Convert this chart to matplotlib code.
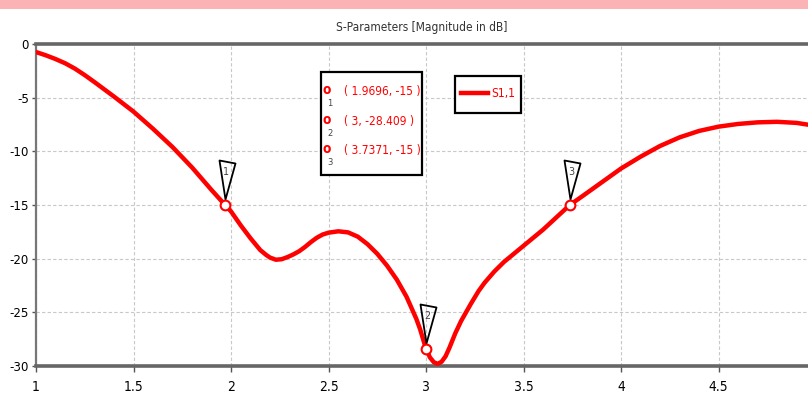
import matplotlib
matplotlib.use("Agg")
import matplotlib.pyplot as plt
from matplotlib import font_manager
from matplotlib.path import Path
from matplotlib.patches import Rectangle

# ---- data ----
freq = [1.00, 1.05, 1.10, 1.15, 1.20, 1.25, 1.30, 1.40, 1.50, 1.60, 1.70, 1.80,
        1.90, 1.9696, 2.00, 2.05, 2.10, 2.15, 2.18, 2.20, 2.23, 2.26, 2.29, 2.32,
        2.35, 2.38, 2.41, 2.44, 2.47, 2.50, 2.55, 2.60, 2.65, 2.70, 2.75, 2.80,
        2.85, 2.90, 2.95, 2.97, 3.00, 3.02, 3.04, 3.06, 3.08, 3.10, 3.12, 3.15,
        3.18, 3.23, 3.27, 3.30, 3.35, 3.40, 3.50, 3.60, 3.7371, 3.80, 3.90, 4.00,
        4.10, 4.20, 4.30, 4.40, 4.50, 4.60, 4.70, 4.80, 4.90, 4.97]
s11 = [-0.75, -1.05, -1.4, -1.8, -2.3, -2.9, -3.55, -4.9, -6.3, -7.9, -9.6, -11.5,
       -13.6, -15.0, -15.6, -16.9, -18.1, -19.2, -19.65, -19.9, -20.1, -20.05, -19.85, -19.6,
       -19.3, -18.9, -18.45, -18.05, -17.75, -17.58, -17.45, -17.55, -17.95, -18.65, -19.55, -20.65,
       -21.95, -23.55, -25.6, -26.6, -28.409, -29.2, -29.65, -29.8, -29.6, -29.1, -28.3, -26.95,
       -25.8, -24.2, -23.0, -22.25, -21.2, -20.3, -18.8, -17.3, -15.0, -14.2, -12.9, -11.6,
       -10.5, -9.5, -8.7, -8.1, -7.7, -7.45, -7.3, -7.25, -7.35, -7.55]

marker_x = [1.9696, 3.0, 3.7371]
marker_y = [-15.0, -28.409, -15.0]
marker_labels = ["1", "2", "3"]
marker_texts = ["( 1.9696, -15 )", "( 3, -28.409 )", "( 3.7371, -15 )"]

xticks = [1, 1.5, 2, 2.5, 3, 3.5, 4, 4.5]
xticklabels = ["1", "1.5", "2", "2.5", "3", "3.5", "4", "4.5"]
yticks = [0, -5, -10, -15, -20, -25, -30]
yticklabels = ["0", "-5", "-10", "-15", "-20", "-25", "-30"]

title = "S-Parameters [Magnitude in dB]"
series_name = "S1,1"

# pick a condensed font if one is installed
names = {f.name for f in font_manager.fontManager.ttflist}
stretches = {(f.name, f.stretch) for f in font_manager.fontManager.ttflist}
if "Liberation Sans Narrow" in names:
    FONT = ["Liberation Sans Narrow", "DejaVu Sans"]
    STRETCH = "normal"
    SCALE = 1.0
elif ("DejaVu Sans", "condensed") in stretches or ("DejaVu Sans", "semi-condensed") in stretches:
    FONT = ["DejaVu Sans"]
    STRETCH = "condensed"
    SCALE = 0.9
else:
    FONT = ["DejaVu Sans"]
    STRETCH = "normal"
    SCALE = 0.8
RED = "#ff0000"


def fs(v):
    return v * SCALE


fig = plt.figure(figsize=(8.08, 4.15), dpi=100)
fig.patch.set_facecolor("white")
fig.patches.append(Rectangle((0, 1 - 9 / 415), 1, 9 / 415, transform=fig.transFigure,
                             facecolor="#fbb3b5", edgecolor="none", zorder=0))

ax = fig.add_axes([36 / 808, 49 / 415, 1 - 36 / 808 + 0.01, (366 - 44) / 415])
ax.set_xlim(1, 5.0)
ax.set_ylim(-30, 0)

ax.plot(freq, s11, color=RED, lw=3.2, solid_capstyle="round", solid_joinstyle="round", zorder=3)

flag = Path([(0, 6), (-6, 45), (10, 42), (0, 6)],
            [Path.MOVETO, Path.LINETO, Path.LINETO, Path.CLOSEPOLY])
ax.plot(marker_x, marker_y, ls="none", marker=flag, markersize=64.8,
        markerfacecolor="none", markeredgecolor="black", markeredgewidth=1.3, zorder=4)
ax.plot(marker_x, marker_y, ls="none", marker="o", markersize=7,
        markerfacecolor="white", markeredgecolor=RED, markeredgewidth=1.5, zorder=5)
for mx, my, lab in zip(marker_x, marker_y, marker_labels):
    ax.annotate(lab, xy=(mx, my), xytext=(1, 24), textcoords="offset points",
                ha="center", va="center", fontsize=fs(8.5), color="#444444",
                family=FONT, fontstretch=STRETCH, zorder=6)

ax.set_xticks(xticks)
ax.set_xticklabels(xticklabels, family=FONT, fontsize=fs(11), fontstretch=STRETCH)
ax.set_yticks(yticks)
ax.set_yticklabels(yticklabels, family=FONT, fontsize=fs(10.5), fontstretch=STRETCH)
ax.tick_params(axis="x", length=4, width=1, color="#555555", pad=6)
ax.tick_params(axis="y", length=3, width=1, color="#555555", pad=2)
ax.grid(True, color="#c8c8c8", ls=(0, (3, 2)), lw=0.8)

for s in ["top", "bottom"]:
    ax.spines[s].set_linewidth(2.6)
    ax.spines[s].set_color("#666666")
ax.spines["left"].set_linewidth(1.6)
ax.spines["left"].set_color("#777777")
ax.spines["right"].set_visible(False)

fig.text(422 / 808, 1 - 27 / 415, title, ha="center", va="center",
         fontsize=fs(9.5), family=FONT, fontstretch=STRETCH, color="#333333")

# marker info box
bx0, by0, bx1, by1 = 321, 72, 422, 175
fig.patches.append(Rectangle((bx0 / 808, 1 - by1 / 415), (bx1 - bx0) / 808, (by1 - by0) / 415,
                             transform=fig.transFigure, facecolor="white",
                             edgecolor="black", lw=1.6, zorder=5))
rows_y = [90, 120, 149]
for ry, lab, txt in zip(rows_y, marker_labels, marker_texts):
    fig.text(327 / 808, 1 - ry / 415, "o", ha="center", va="center", fontsize=fs(11),
             color=RED, family=FONT, fontstretch=STRETCH, zorder=6, fontweight="bold")
    fig.text(330 / 808, 1 - (ry + 13) / 415, lab, ha="center", va="center", fontsize=fs(7.5),
             color="#444444", family=FONT, fontstretch=STRETCH, zorder=6)
    fig.text(344 / 808, 1 - (ry + 1) / 415, txt, ha="left", va="center", fontsize=fs(9.5),
             color=RED, family=FONT, fontstretch=STRETCH, zorder=6)

# legend box
lx0, ly0, lx1, ly1 = 455, 76, 521, 113
fig.patches.append(Rectangle((lx0 / 808, 1 - ly1 / 415), (lx1 - lx0) / 808, (ly1 - ly0) / 415,
                             transform=fig.transFigure, facecolor="white",
                             edgecolor="black", lw=1.6, zorder=5))
fig.lines.append(plt.Line2D([461 / 808, 488 / 808], [1 - 93 / 415, 1 - 93 / 415],
                            transform=fig.transFigure, color=RED, lw=3.2, zorder=6))
fig.text(491 / 808, 1 - 94 / 415, series_name, ha="left", va="center", fontsize=fs(9.5),
         color=RED, family=FONT, fontstretch=STRETCH, zorder=6)

fig.savefig("out.png", dpi=100)
